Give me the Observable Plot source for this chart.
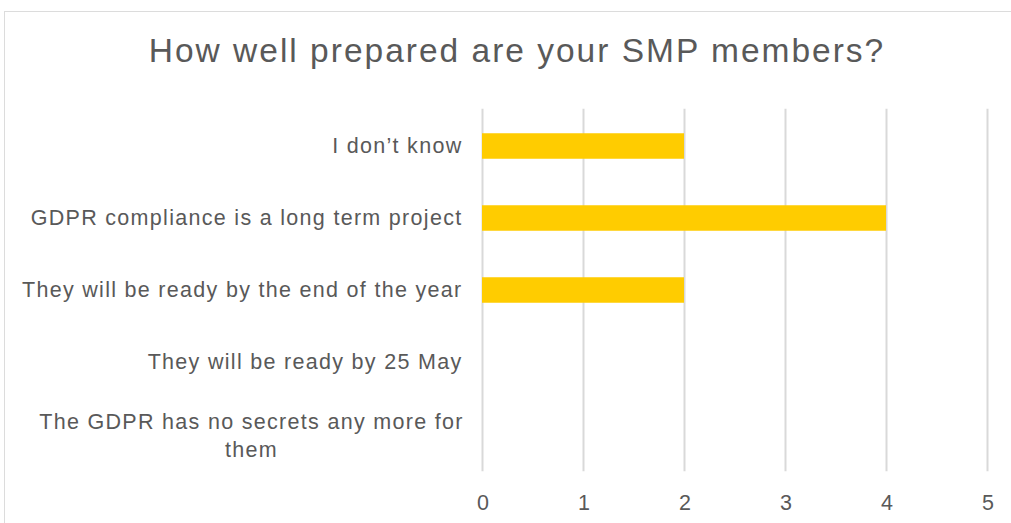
<!DOCTYPE html>
<html><head><meta charset="utf-8">
<script src="https://cdn.jsdelivr.net/npm/d3@7"></script>
<script src="https://cdn.jsdelivr.net/npm/@observablehq/plot@0.6"></script>
<style>
body{margin:0;background:#fff;}
#wrap{position:relative;width:1011px;height:523px;overflow:hidden;font-family:"Liberation Sans",Arial,sans-serif;}
#frame{position:absolute;left:4px;top:11px;width:1040px;height:560px;border:1.5px solid #dcdcdc;box-sizing:border-box;}
#title{position:absolute;left:0;width:1034px;top:32px;text-align:center;font-size:33.5px;line-height:38px;color:#595959;white-space:nowrap;letter-spacing:2px;}
#chart{position:absolute;left:0;top:0;}
#chart svg text{letter-spacing:1.3px;}
</style></head>
<body>
<div id="wrap"><div id="frame"></div><div id="chart"></div><div id="title">How well prepared are your SMP members?</div></div>
<script>
const categories = [
  "I don’t know",
  "GDPR compliance is a long term project",
  "They will be ready by the end of the year",
  "They will be ready by 25 May",
  "The GDPR has no secrets any more for them"
];
const values = [2, 4, 2, 0, 0];
const displayLabels = [
  "I don’t know",
  "GDPR compliance is a long term project",
  "They will be ready by the end of the year",
  "They will be ready by 25 May",
  "The GDPR has no secrets any more for\nthem"
];
const xTicks = [0, 1, 2, 3, 4, 5];

const data = categories.map((c, i) => ({category: c, value: values[i]}));
const labelOf = new Map(categories.map((c, i) => [c, displayLabels[i]]));
const wrapped = categories.filter(c => labelOf.get(c).includes("\n"));
const single = categories.filter(c => !labelOf.get(c).includes("\n"));

const chart = Plot.plot({
  width: 1011,
  height: 523,
  marginLeft: 482,
  marginRight: 24,
  marginTop: 108.75,
  marginBottom: 51.75,
  style: {fontFamily: "Liberation Sans, Arial, sans-serif", color: "#595959", background: "transparent"},
  x: {domain: [0, 5], ticks: xTicks},
  y: {domain: categories, padding: 0},
  marks: [
    Plot.ruleX(xTicks, {stroke: "#d9d9d9", strokeWidth: 2, strokeOpacity: 1}),
    Plot.barX(data, {x: "value", y: "category", fill: "#FFCC00", insetTop: 23.25, insetBottom: 23.25}),
    Plot.axisX({ticks: xTicks, tickSize: 0, tickPadding: 23, fontSize: 21.5, label: null, fill: "#595959",
      tickFormat: d => String(d), dx: 1}),
    Plot.axisY({ticks: single, tickSize: 0, tickPadding: 20, fontSize: 21.5, label: null, fill: "#595959",
      tickFormat: d => labelOf.get(d)}),
    Plot.axisY({ticks: wrapped, tickSize: 0, tickPadding: 20, fontSize: 21.5, label: null, fill: "#595959",
      textAnchor: "middle", dx: -211, lineHeight: 1.3, tickFormat: d => labelOf.get(d)})
  ]
});
document.getElementById("chart").appendChild(chart);
</script>
</body></html>
